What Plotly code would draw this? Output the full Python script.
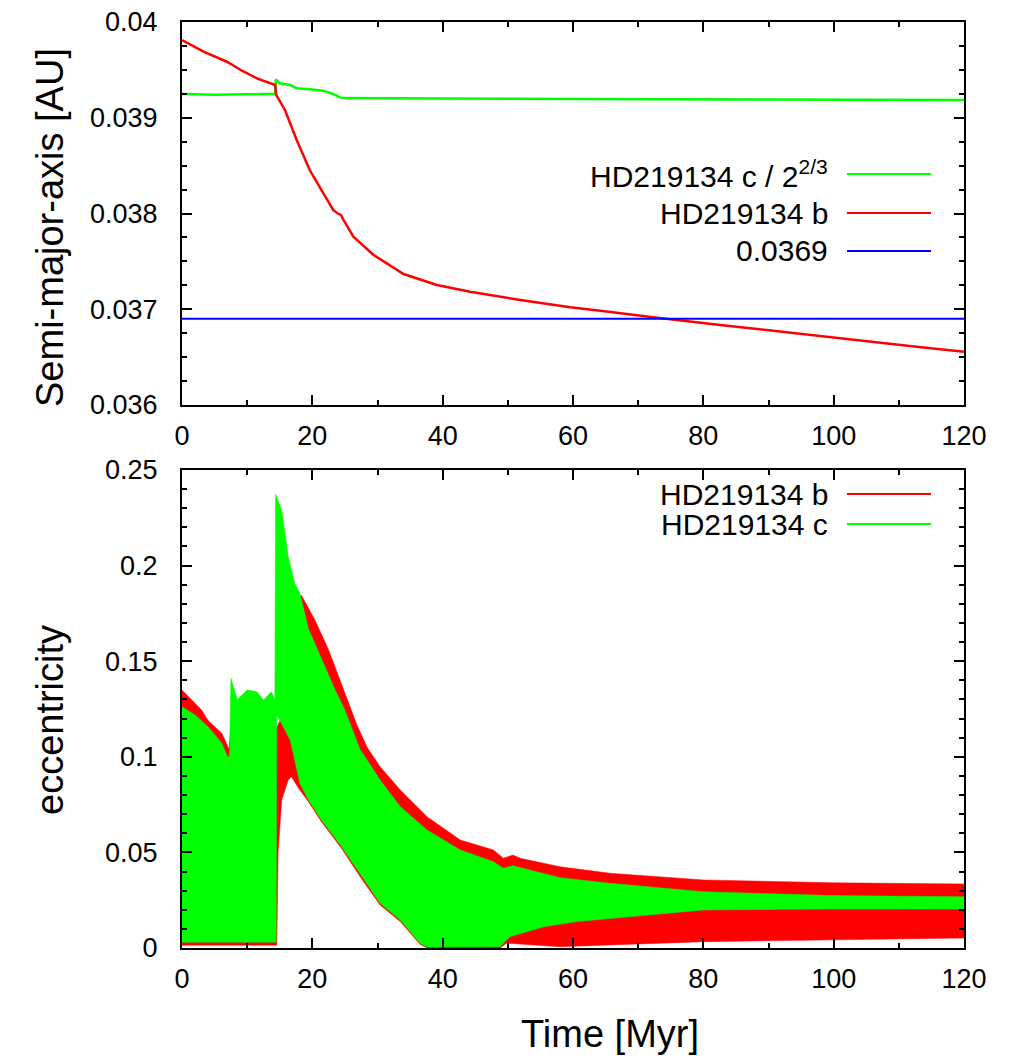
import plotly.graph_objects as go

# ---------------- data ----------------
# Top panel: semi-major axis [AU] vs time [Myr]
a_b_x = [0, 3.3, 6.9, 9.2, 11.5, 14.3, 14.45, 15.8, 17.6, 19.6, 21.7, 23.2, 24.0, 24.4, 24.8,
         26.3, 29.4, 34.0, 39.1, 44.2, 51.9, 59.6, 64.2, 67.2, 72.3, 82.6, 90, 103, 112, 120]
a_b_y = [0.03981, 0.03969, 0.039585, 0.039491, 0.039412, 0.039342, 0.03924, 0.039081, 0.038768,
         0.038454, 0.038211, 0.038037, 0.037995, 0.037985, 0.03793, 0.037758, 0.037567, 0.037368,
         0.037253, 0.037183, 0.037097, 0.037020, 0.036985, 0.036958, 0.036916, 0.036836, 0.036779,
         0.036679, 0.036614, 0.036557]

a_c_x = [0, 5, 10, 14.3, 14.4, 15.0, 16.6, 17.6, 19.6, 21.7, 23.2, 24.3, 25, 30, 40, 60, 67.2, 90, 120]
a_c_y = [0.039248, 0.03924, 0.039245, 0.03925, 0.039401, 0.03936, 0.039342, 0.039307, 0.039297,
         0.039283, 0.039248, 0.03921, 0.039205, 0.039205, 0.0392, 0.039195, 0.039193, 0.03919, 0.039185]

ref_x = [0, 120]
ref_y = [0.0369, 0.0369]

# Bottom panel: eccentricity envelopes (upper / lower edges of the oscillation bands)
e_b_hi_x = [0, 1.5, 3.0, 4.0, 6.1, 6.6, 7.2, 7.5, 14.5, 15.3, 16.3, 17.3, 18.3, 20.4, 22.5, 24.5,
            26.8, 28.4, 30.4, 33.5, 37.6, 42.7, 47.8, 49.3, 50.8, 51.9, 58, 65.7, 80, 100, 120]
e_b_hi_y = [0.1349, 0.1297, 0.1245, 0.119, 0.1123, 0.1088, 0.104, 0.115, 0.115, 0.121, 0.15, 0.178,
            0.1846, 0.1715, 0.1559, 0.138, 0.117, 0.105, 0.0948, 0.0826, 0.0687, 0.0565, 0.0513,
            0.047, 0.0486, 0.0469, 0.0425, 0.0391, 0.0356, 0.0341, 0.0335]
e_b_lo_x = [0, 14.55, 14.75, 15.3, 16.3, 16.8, 17.9, 19.4, 21.4, 24.5, 27.6, 30.4, 33.5, 36.5, 37.6,
            48.8, 49.8, 58, 65.7, 80, 100, 120]
e_b_lo_y = [0.0015, 0.0015, 0.05, 0.0774, 0.0879, 0.0896, 0.0835, 0.0765, 0.066, 0.052, 0.036,
            0.0225, 0.0138, 0.002, 0.0, 0.0, 0.0025, 0.0007, 0.0016, 0.0033, 0.0042, 0.0052]

e_c_hi_x = [0, 2, 4, 6.1, 7.0, 7.3, 7.5, 8.5, 10, 11.5, 12.5, 13.7, 14.25, 14.35, 15.3, 16.3, 17.3,
            18.1, 19.4, 21.4, 23.5, 25.0, 27.3, 30.4, 33.5, 37.6, 42.7, 47.8, 49.3, 50.8, 58, 65.7,
            80, 100, 120]
e_c_hi_y = [0.1262, 0.1219, 0.1157, 0.1071, 0.100, 0.100, 0.141, 0.13, 0.135, 0.134, 0.1297, 0.134,
            0.13, 0.2374, 0.229, 0.2047, 0.1907, 0.1855, 0.167, 0.151, 0.1349, 0.1245, 0.104,
            0.0879, 0.0739, 0.0617, 0.0513, 0.0451, 0.0417, 0.043, 0.0368, 0.0338, 0.0294, 0.0274,
            0.0268]
e_c_lo_x = [0, 14.45, 14.55, 16.6, 17.3, 18.1, 19.4, 21.4, 24.5, 27.6, 30.4, 33.5, 36.5, 37.6, 48.8,
            50.3, 55.5, 60.6, 65.7, 80, 100, 120]
e_c_lo_y = [0.003, 0.003, 0.122, 0.1088, 0.098, 0.086, 0.0774, 0.0669, 0.053, 0.0373, 0.0234,
            0.0146, 0.0025, 0.0005, 0.0007, 0.0059, 0.0111, 0.0138, 0.0155, 0.0199, 0.0204, 0.0204]

x_ticks = [0, 20, 40, 60, 80, 100, 120]
a_ticks = [0.036, 0.037, 0.038, 0.039, 0.04]
a_tick_text = ["0.036", "0.037", "0.038", "0.039", "0.04"]
e_ticks = [0, 0.05, 0.1, 0.15, 0.2, 0.25]
e_tick_text = ["0", "0.05", "0.1", "0.15", "0.2", "0.25"]

RED = "#ff0000"
GREEN = "#00ff00"
BLUE = "#0000ff"

# the page body adds an 8px margin, so the figure is sized/offset to compensate
OFF = 8
W, H = 1025 - OFF, 1060 - OFF
FONT = "Liberation Sans, Arial, Helvetica, sans-serif"

fig = go.Figure()

# top panel lines
fig.add_trace(go.Scatter(x=a_c_x, y=a_c_y, mode="lines", line=dict(color=GREEN, width=2.5),
                         xaxis="x", yaxis="y", name="HD219134 c / 2^(2/3)"))
fig.add_trace(go.Scatter(x=a_b_x, y=a_b_y, mode="lines", line=dict(color=RED, width=2.5),
                         xaxis="x", yaxis="y", name="HD219134 b"))
fig.add_trace(go.Scatter(x=ref_x, y=ref_y, mode="lines", line=dict(color=BLUE, width=2),
                         xaxis="x", yaxis="y", name="0.0369"))

# bottom panel bands
fig.add_trace(go.Scatter(x=e_b_hi_x + e_b_lo_x[::-1], y=e_b_hi_y + e_b_lo_y[::-1],
                         mode="lines", fill="toself", fillcolor=RED,
                         line=dict(color=RED, width=0.5), xaxis="x2", yaxis="y2",
                         name="HD219134 b"))
fig.add_trace(go.Scatter(x=e_c_hi_x + e_c_lo_x[::-1], y=e_c_hi_y + e_c_lo_y[::-1],
                         mode="lines", fill="toself", fillcolor=GREEN,
                         line=dict(color=GREEN, width=0.5), xaxis="x2", yaxis="y2",
                         name="HD219134 c"))

def px_x(p):
    return (p - OFF) / W

def px_y(p):
    return (H - (p - OFF)) / H

common_axis = dict(showline=True, linewidth=2, linecolor="black", mirror="ticks",
                   ticks="inside", ticklen=10, tickwidth=2, tickcolor="black",
                   showgrid=False, zeroline=False, automargin=False,
                   ticklabeloverflow="allow",
                   tickfont=dict(family=FONT, size=27, color="black"))

xdom = [px_x(182), px_x(964)]
fig.update_layout(
    width=W, height=H,
    margin=dict(l=0, r=0, t=0, b=0, autoexpand=False),
    paper_bgcolor="white", plot_bgcolor="white",
    showlegend=False,
    xaxis=dict(domain=xdom, anchor="y", range=[0, 120], tickmode="array", tickvals=x_ticks,
               minor=dict(tickmode="linear", tick0=0, dtick=10, ticks="inside", ticklen=5,
                          tickwidth=2, tickcolor="black"),
               ticklabelstandoff=6, **common_axis),
    yaxis=dict(domain=[px_y(405), px_y(22)], anchor="x", range=[0.036, 0.04],
               tickmode="array", tickvals=a_ticks, ticktext=a_tick_text,
               minor=dict(tickmode="linear", tick0=0.036, dtick=0.00025, ticks="inside",
                          ticklen=5, tickwidth=2, tickcolor="black"),
               ticklabelstandoff=17, **common_axis),
    xaxis2=dict(domain=xdom, anchor="y2", range=[0, 120], tickmode="array", tickvals=x_ticks,
                minor=dict(tickmode="linear", tick0=0, dtick=10, ticks="inside", ticklen=5,
                           tickwidth=2, tickcolor="black"),
                ticklabelstandoff=6, **common_axis),
    yaxis2=dict(domain=[px_y(948), px_y(470)], anchor="x2", range=[0, 0.25],
                tickmode="array", tickvals=e_ticks, ticktext=e_tick_text,
                minor=dict(tickmode="linear", tick0=0, dtick=0.01, ticks="inside",
                           ticklen=5, tickwidth=2, tickcolor="black"),
                ticklabelstandoff=17, **common_axis),
)

annotations = [
    dict(text="Semi-major-axis [AU]", x=px_x(50), y=px_y(228), textangle=-90),
    dict(text="eccentricity", x=px_x(50), y=px_y(720), textangle=-90),
    dict(text="Time [Myr]", x=px_x(610), y=px_y(1034)),
]
for a in annotations:
    a.update(xref="paper", yref="paper", showarrow=False, xanchor="center", yanchor="middle",
             font=dict(family=FONT, size=38, color="black"))

legend_items = [
    ("HD219134 c / 2<sup>2/3</sup>", GREEN, 174),
    ("HD219134 b", RED, 213),
    ("0.0369", BLUE, 251),
    ("HD219134 b", RED, 494),
    ("HD219134 c", GREEN, 524),
]
shapes = []
for text, color, yp in legend_items:
    annotations.append(dict(text=text, xref="paper", yref="paper", x=px_x(830), y=px_y(yp),
                            xanchor="right", yanchor="middle", showarrow=False,
                            font=dict(family=FONT, size=30, color="black")))
    shapes.append(dict(type="line", xref="paper", yref="paper", x0=px_x(847), x1=px_x(931),
                       y0=px_y(yp), y1=px_y(yp), line=dict(color=color, width=2)))

fig.update_layout(annotations=annotations, shapes=shapes)

fig.write_html("out.html")
